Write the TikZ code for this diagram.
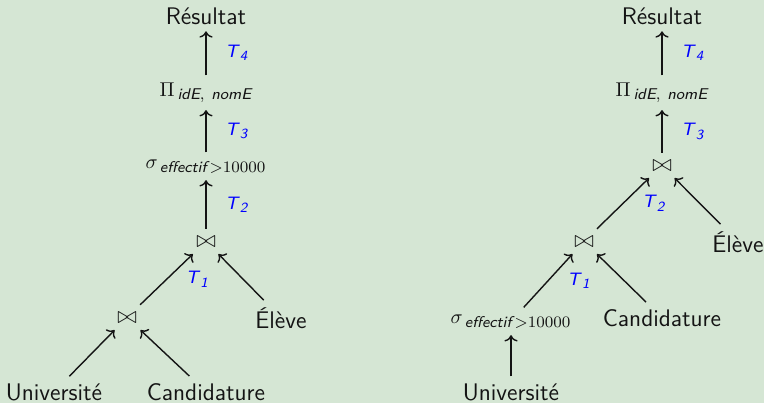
\documentclass[tikz,border=0pt]{standalone}
\usepackage{amsmath}
\usepackage{tikz}
\usepackage{xcolor}
\usetikzlibrary{arrows.meta, positioning}
\definecolor{planBg}{RGB}{213,230,212}
\definecolor{planInk}{RGB}{20,20,20}
\DeclareMathSizes{10}{10}{7.8}{6}
\DeclareMathSizes{9}{9}{7}{5}

\begin{document}
\begin{tikzpicture}[x=0.5pt, y=-0.5pt,
      rel/.style={anchor=base, text=planInk, font=\sffamily\fontsize{12}{14}\selectfont},
      op/.style={anchor=base, text=planInk, font=\sffamily\fontsize{10}{12}\selectfont},
      joinop/.style={anchor=base, text=planInk, font=\sffamily\fontsize{12}{14}\selectfont},
      tlab/.style={right=6pt, text=blue, font=\sffamily\fontsize{9}{11}\selectfont},
      arrow/.style={->, line width=0.7pt, draw=planInk}
    ]
    \useasboundingbox (0,0) rectangle (764,403);
    \fill[planBg] (0,0) rectangle (764,403);

    % plan 1 : jointures puis selection
    \node[rel] (resA) at (206,24) {Résultat};
    \node[op] (piA) at (206,96) {$\Pi_{\,\textit{idE},\ \textit{nomE}}$};
    \node[op] (selA) at (206,168) {$\sigma_{\,\textit{effectif}\,>10000}$};
    \node[joinop] (joinA2) at (206,247) {$\bowtie$};
    \node[joinop] (joinA1) at (127,323) {$\bowtie$};
    \node[rel] (eleveA) at (281,328) {Élève};
    \node[rel] (univA) at (54,400) {Université};
    \node[rel] (candA) at (206,400) {Candidature};

    \draw[arrow] (piA) -- node[tlab] {\textit{T}$_{\textit{4}}$} (resA);
    \draw[arrow] (selA) -- node[tlab] {\textit{T}$_{\textit{3}}$} (piA);
    \draw[arrow] (joinA2) -- node[tlab] {\textit{T}$_{\textit{2}}$} (selA);
    \draw[arrow] (joinA1) -- node[tlab] {\textit{T}$_{\textit{1}}$} (joinA2);
    \draw[arrow] (eleveA) -- (joinA2);
    \draw[arrow] (univA) -- (joinA1);
    \draw[arrow] (candA) -- (joinA1);

    % plan 2 : selection poussee vers le bas
    \node[rel] (resB) at (662,24) {Résultat};
    \node[op] (piB) at (662,96) {$\Pi_{\,\textit{idE},\ \textit{nomE}}$};
    \node[joinop] (joinB2) at (662,171) {$\bowtie$};
    \node[joinop] (joinB1) at (584,247) {$\bowtie$};
    \node[rel] (eleveB) at (738,252) {Élève};
    \node[op] (selB) at (511,323) {$\sigma_{\,\textit{effectif}\,>10000}$};
    \node[rel] (candB) at (662,326) {Candidature};
    \node[rel] (univB) at (511,400) {Université};

    \draw[arrow] (piB) -- node[tlab] {\textit{T}$_{\textit{4}}$} (resB);
    \draw[arrow] (joinB2) -- node[tlab] {\textit{T}$_{\textit{3}}$} (piB);
    \draw[arrow] (joinB1) -- node[tlab] {\textit{T}$_{\textit{2}}$} (joinB2);
    \draw[arrow] (selB) -- node[tlab] {\textit{T}$_{\textit{1}}$} (joinB1);
    \draw[arrow] (eleveB) -- (joinB2);
    \draw[arrow] (candB) -- (joinB1);
    \draw[arrow] (univB) -- (selB);
  \end{tikzpicture}
\end{document}
